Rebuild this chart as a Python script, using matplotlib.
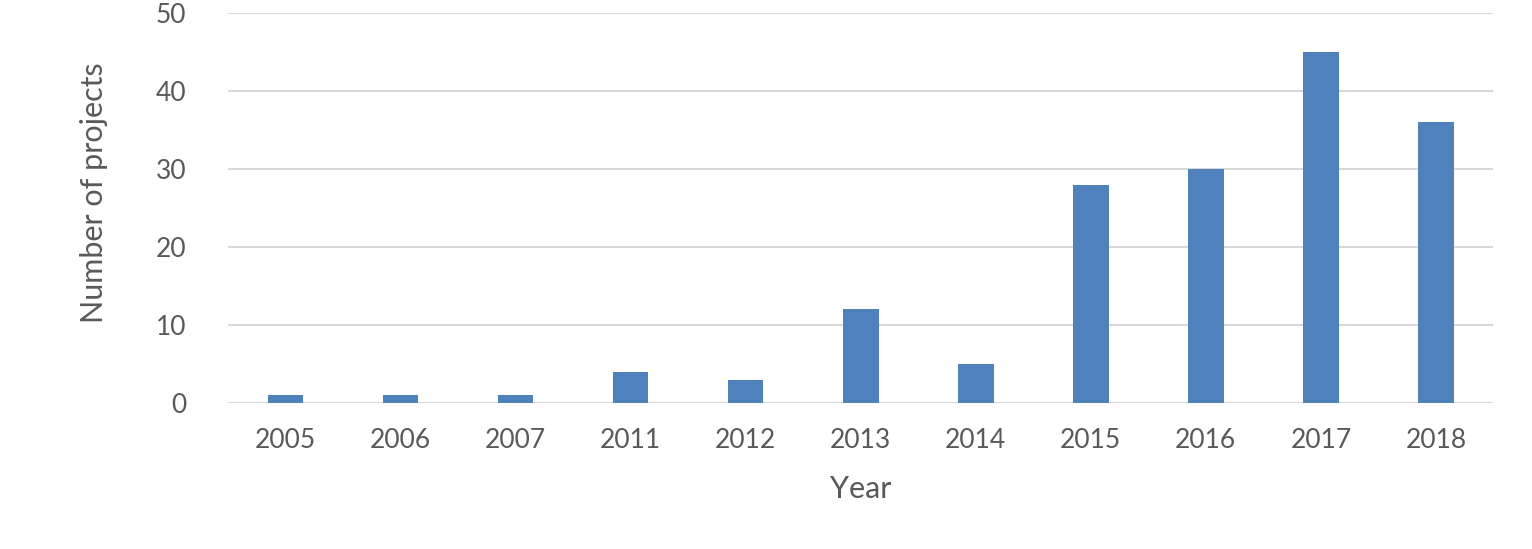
import matplotlib.pyplot as plt

years = ['2005', '2006', '2007', '2011', '2012', '2013', '2014', '2015', '2016', '2017', '2018']
projects = [1, 1, 1, 4, 3, 12, 5, 28, 30, 45, 36]

plt.rcParams['font.family'] = ['Lato', 'DejaVu Sans']

fig = plt.figure(figsize=(15.32, 5.49), dpi=100)
ax = fig.add_axes([0.1488, 0.266, 0.826, 0.7103])

x = range(len(years))
ax.bar(x, projects, width=0.31, color='#4F81BD', zorder=3)

ax.set_xlim(-0.5, len(years) - 0.5)
ax.set_ylim(0, 50)
ax.set_yticks(range(0, 51, 10))
ax.set_xticks(list(x))
ax.set_xticklabels(years)

ax.grid(axis='y', color='#D9D9D9', linewidth=1.5, zorder=0)
for s in ax.spines.values():
    s.set_visible(False)
ax.tick_params(axis='both', length=0, labelsize=19, colors='#595959')
ax.tick_params(axis='y', pad=30)
ax.tick_params(axis='x', pad=18)

ax.set_xlabel('Year', fontsize=22, color='#595959', labelpad=16)
ax.set_ylabel('Number of projects', fontsize=22, color='#595959', labelpad=34)
ax.yaxis.label.set_y(0.54)

fig.savefig('out.png', dpi=100)
